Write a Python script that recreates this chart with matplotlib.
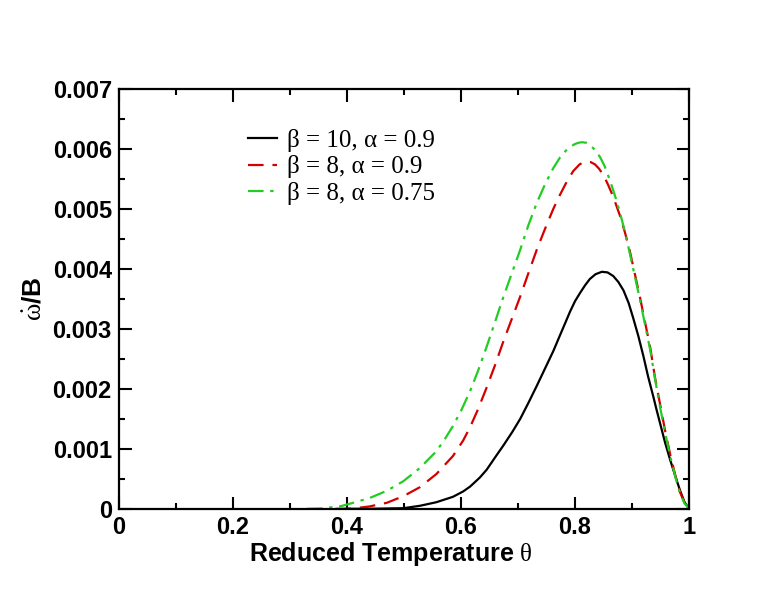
import numpy as np
import matplotlib
matplotlib.use('Agg')
import matplotlib.pyplot as plt
from matplotlib.ticker import MultipleLocator

plt.rcParams['font.family'] = ['Liberation Sans', 'DejaVu Sans']
plt.rcParams['mathtext.fontset'] = 'custom'
plt.rcParams['mathtext.rm'] = 'Liberation Serif'
plt.rcParams['mathtext.it'] = 'Liberation Serif:italic'

# reduced temperature theta and omega-dot/B
theta_b10 = [0.40, 0.45, 0.499, 0.528, 0.557, 0.586, 0.604, 0.616, 0.633, 0.645, 0.663,
             0.674, 0.690, 0.704, 0.718, 0.733, 0.748, 0.762, 0.774, 0.783, 0.791,
             0.800, 0.809, 0.818, 0.826, 0.836, 0.847, 0.857, 0.867, 0.876, 0.885,
             0.894, 0.902, 0.911, 0.920, 0.928, 0.937, 0.943, 0.949, 0.958, 0.967,
             0.976, 0.984, 0.992, 1.0]
rate_b10 = [0.0, 0.000002, 0.00001, 0.00005, 0.00011, 0.0002, 0.00029, 0.00037, 0.00052,
            0.00065, 0.0009, 0.00105, 0.00128, 0.0015, 0.00176, 0.00205, 0.00235,
            0.00263, 0.0029, 0.0031, 0.00328, 0.00346, 0.0036, 0.00373, 0.00383,
            0.00391, 0.00395, 0.00394, 0.00388, 0.00378, 0.00364, 0.00343, 0.00318,
            0.00288, 0.00254, 0.00221, 0.00188, 0.00165, 0.00143, 0.0011, 0.00081,
            0.00054, 0.00031, 0.00011, 0.0]

theta_b8 = [0.38, 0.411, 0.440, 0.470, 0.499, 0.528, 0.557, 0.586, 0.604, 0.616, 0.630,
            0.645, 0.660, 0.674, 0.689, 0.704, 0.718, 0.733, 0.748, 0.762, 0.774,
            0.786, 0.797, 0.808, 0.814, 0.820, 0.827, 0.835, 0.842, 0.850, 0.858,
            0.867, 0.879, 0.888, 0.896, 0.905, 0.914, 0.923, 0.932, 0.940, 0.949,
            0.958, 0.967, 0.976, 0.984, 0.992, 1.0]
rate_b8 = [0.0, 0.000005, 0.00004, 0.0001, 0.00021, 0.00036, 0.00058, 0.00088, 0.00114,
           0.00136, 0.00166, 0.00202, 0.0024, 0.00278, 0.00316, 0.00354, 0.00392,
           0.00432, 0.00468, 0.005, 0.00524, 0.00546, 0.00563, 0.00574, 0.00577,
           0.00579, 0.00578, 0.00574, 0.00567, 0.00556, 0.0054, 0.0052, 0.00488,
           0.00459, 0.0043, 0.00391, 0.00352, 0.0031, 0.00268, 0.0022, 0.00175,
           0.0013, 0.0009, 0.00055, 0.00028, 0.0001, 0.0]

theta_b8a = [0.33, 0.353, 0.388, 0.411, 0.440, 0.470, 0.499, 0.528, 0.557, 0.571, 0.586,
             0.600, 0.616, 0.630, 0.645, 0.660, 0.674, 0.689, 0.704, 0.718, 0.733,
             0.748, 0.762, 0.774, 0.786, 0.793, 0.800, 0.806, 0.812, 0.820, 0.828,
             0.836, 0.844, 0.852, 0.861, 0.870, 0.879, 0.888, 0.896, 0.905, 0.914,
             0.923, 0.932, 0.940, 0.949, 0.958, 0.967, 0.976, 0.984, 0.992, 1.0]
rate_b8a = [0.0, 0.000005, 0.00004, 0.0001, 0.00018, 0.0003, 0.00046, 0.00068, 0.00096,
            0.00115, 0.00138, 0.00163, 0.00196, 0.0023, 0.0027, 0.00312, 0.00352,
            0.00392, 0.00432, 0.00472, 0.0051, 0.00542, 0.00568, 0.00586, 0.00599,
            0.00604, 0.00608, 0.0061, 0.00611, 0.0061, 0.00605, 0.00597, 0.00586,
            0.00571, 0.00548, 0.00522, 0.00493, 0.0046, 0.00426, 0.00387, 0.00348,
            0.00306, 0.00264, 0.00218, 0.0017, 0.00127, 0.00087, 0.00053, 0.00026,
            0.00009, 0.0]

labels = ['β = 10, α = 0.9', 'β = 8, α = 0.9', 'β = 8, α = 0.75']

xtick_vals = [0, 0.2, 0.4, 0.6, 0.8, 1.0]
xtick_labels = ['0', '0.2', '0.4', '0.6', '0.8', '1']
ytick_vals = [0, 0.001, 0.002, 0.003, 0.004, 0.005, 0.006, 0.007]
ytick_labels = ['0', '0.001', '0.002', '0.003', '0.004', '0.005', '0.006', '0.007']

fig = plt.figure(figsize=(7.76, 6.0), dpi=100)
ax = fig.add_axes([0.153, 0.152, 0.735, 0.700])

ax.plot(theta_b10, rate_b10, color='black', lw=1.6, label=labels[0])
ax.plot(theta_b8, rate_b8, color='#d40000', lw=1.6, dashes=(7, 4), label=labels[1])
ax.plot(theta_b8a, rate_b8a, color='#22cc22', lw=1.6, dashes=(7, 3, 1.5, 3), label=labels[2])

ax.set_xlim(0, 1)
ax.set_ylim(0, 0.007)
ax.set_xticks(xtick_vals)
ax.set_xticklabels(xtick_labels)
ax.set_yticks(ytick_vals)
ax.set_yticklabels(ytick_labels)
ax.xaxis.set_minor_locator(MultipleLocator(0.1))
ax.yaxis.set_minor_locator(MultipleLocator(0.0005))
ax.tick_params(which='both', direction='in', top=True, right=True, width=1.5)
ax.tick_params(which='major', length=9, labelsize=17, pad=5)
ax.tick_params(which='minor', length=4.5)
for lab in ax.get_xticklabels() + ax.get_yticklabels():
    lab.set_fontweight('bold')
for sp in ax.spines.values():
    sp.set_linewidth(1.6)

ax.set_xlabel(r'Reduced Temperature $\mathrm{\theta}$', fontsize=18, fontweight='bold', labelpad=1)
ax.xaxis.label.set_x(0.478)
ax.set_ylabel(r'$\dot{\mathrm{\omega}}$/B', fontsize=19, fontweight='bold', labelpad=4)

ax.legend(loc='upper left', bbox_to_anchor=(0.205, 0.935), frameon=False,
          prop={'family': 'Liberation Serif', 'size': 18},
          handlelength=1.15, handletextpad=0.4, labelspacing=0.15, borderpad=0)

fig.savefig('out.png', dpi=100)
